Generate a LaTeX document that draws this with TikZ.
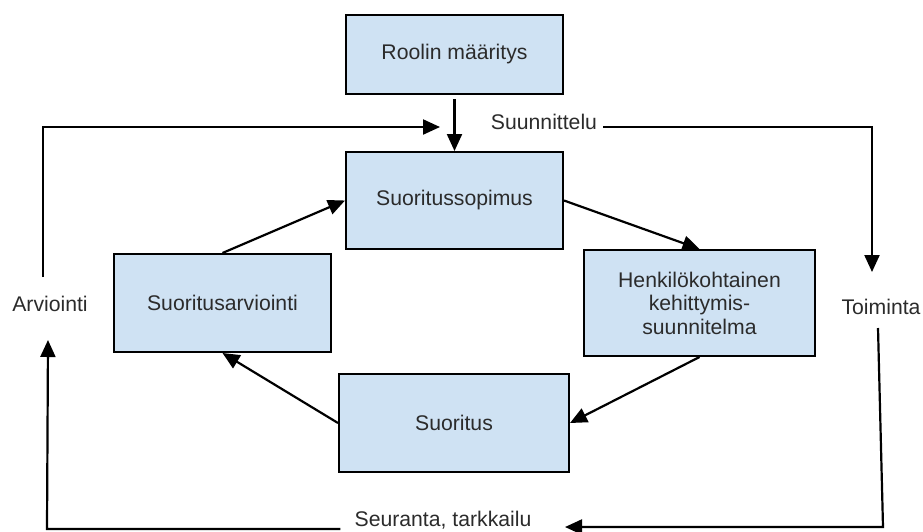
\documentclass[tikz,border=0pt]{standalone}
\usepackage{fontspec}
\setmainfont{Liberation Sans}
\usetikzlibrary{arrows.meta,calc}
\definecolor{boxfill}{HTML}{CFE2F3}
\definecolor{ink}{HTML}{2B2B2B}
\begin{document}
\begin{tikzpicture}[x=1pt,y=-1pt,
  font=\fontsize{21.2}{23.5}\selectfont,
  stage/.style={draw=black,line width=2pt,fill=boxfill,text=ink,
    align=center,inner sep=0pt,anchor=north west},
  phase/.style={text=ink,inner sep=2pt},
  flow/.style={line width=2.2pt,draw=black,
    -{Triangle[length=17pt,width=15pt]}}]
\useasboundingbox (0,0) rectangle (923,531);

% process boxes
\node[stage,minimum width=217pt,minimum height=79pt] (rol) at (345,14) {Roolin määritys};
\node[stage,minimum width=217pt,minimum height=97pt] (sop) at (345,151) {Suoritussopimus};
\node[stage,minimum width=217pt,minimum height=98pt] (arv) at (113,253) {Suoritusarviointi};
\node[stage,minimum width=231pt,minimum height=106pt] (hen) at (583,249) {Henkilökohtainen\\kehittymis-\\suunnitelma};
\node[stage,minimum width=230pt,minimum height=98pt] (suo) at (338,373) {Suoritus};

% phase labels of the outer cycle
\node[phase] (suun) at (544,122) {Suunnittelu};
\node[phase] (toim) at (881,307) {Toiminta};
\node[phase] (seur) at (443,520) {Seuranta, tarkkailu};
\node[phase] (arvl) at (50,304) {Arviointi};

% free ends of the outer connectors
\coordinate (topin) at (440,127);
\coordinate (botin) at (565,527);

% inner cycle
\draw[flow,shorten <=4pt] (rol.south) -- (sop.north);
\draw[flow] (arv.north) -- (sop.west);
\draw[flow] (sop.east) -- (hen.north);
\draw[flow] (hen.south) -- (suo.east);
\draw[flow] (suo.west) -- (arv.south);

% outer cycle
\draw[flow] (43,277) -- (43,127) -- (topin);
\draw[flow] (suun.east) ++(4,5) -- (872,127) -- (872,272);
\draw[flow] (878,328) -- (883,527) -- (botin);
\draw[flow] (seur.west) ++(-12,9) -- (47,529) -- (48,340);
\end{tikzpicture}
\end{document}
